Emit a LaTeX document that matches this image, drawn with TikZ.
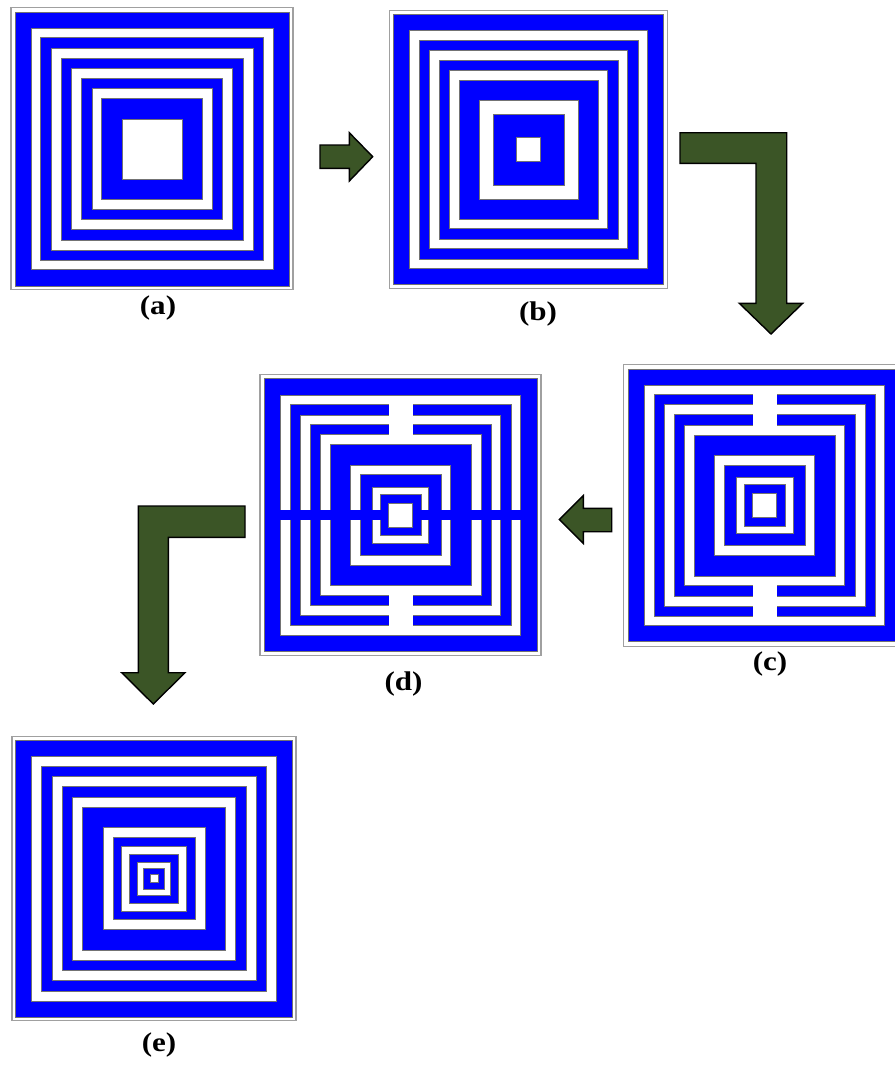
\documentclass[tikz,border=0pt]{standalone}
\usepackage{fontspec}
\setmainfont{Liberation Serif}
\usepackage{graphicx}
\usepackage{xcolor}
\definecolor{ring}{HTML}{0000FF}
\definecolor{frm}{HTML}{A0A0A0}
\definecolor{arrg}{HTML}{3B5526}
\usepackage{tikz}
\usetikzlibrary{calc}
\tikzset{
  sq/.style={draw=black!55,line width=0.5pt},
  frame/.style={draw=frm,line width=1.3pt},
  gap/.style={fill=white},
  band/.style={fill=ring},
  blockarr/.style={fill=arrg,draw=black,line width=1.4pt,line join=miter},
  lab/.style={anchor=base,inner sep=0pt,font=\fontsize{27}{27}\selectfont\bfseries},
}
\newcommand{\panlab}[1]{\scalebox{1.15}[1]{#1}}

\begin{document}
\begin{tikzpicture}[x=1pt,y=-1pt]
\useasboundingbox[fill=white] (0,0) rectangle (894,1065);

% panel centres
\coordinate (pa) at (152,148.8);
\coordinate (pb) at (528.7,149.7);
\coordinate (pc) at (764.7,505.3);
\coordinate (pd) at (400.5,515);
\coordinate (pe) at (154,878.7);

% (a)
\draw[frame] ($(pa)+(-141,-141)$) rectangle ($(pa)+(141,141)$);
\foreach \h/\c in {137/ring,120.8/white,111.3/ring,101/white,91/ring,80.7/white,70.7/ring,60.2/white,50.7/ring,30/white}
  \filldraw[sq,fill=\c] ($(pa)+(-\h,-\h)$) rectangle ($(pa)+(\h,\h)$);

% (b)
\draw[frame] ($(pb)+(-139,-139)$) rectangle ($(pb)+(139,139)$);
\foreach \h/\c in {135/ring,119/white,109.2/ring,99/white,89.5/ring,79/white,69.7/ring,49.5/white,35.8/ring,12/white}
  \filldraw[sq,fill=\c] ($(pb)+(-\h,-\h)$) rectangle ($(pb)+(\h,\h)$);

% (c)
\draw[frame] ($(pc)+(-141,-141)$) rectangle ($(pc)+(141,141)$);
\foreach \h/\c in {136/ring,120/white,110.8/ring,100.7/white,90.7/ring,80/white,70.5/ring,50/white,40.3/ring,28.3/white,20.7/ring,12/white}
  \filldraw[sq,fill=\c] ($(pc)+(-\h,-\h)$) rectangle ($(pc)+(\h,\h)$);
\fill[gap] ($(pc)+(-12,-111.5)$) rectangle ($(pc)+(12,-79.6)$);
\fill[gap] ($(pc)+(-12,79.6)$) rectangle ($(pc)+(12,111.5)$);

% (d)
\draw[frame] ($(pd)+(-140.5,-140.5)$) rectangle ($(pd)+(140.5,140.5)$);
\foreach \h/\c in {136.7/ring,120/white,110.5/ring,100/white,90.5/ring,80.3/white,70.5/ring,50/white,40.3/ring,27.8/white,20.3/ring}
  \filldraw[sq,fill=\c] ($(pd)+(-\h,-\h)$) rectangle ($(pd)+(\h,\h)$);
\fill[gap] ($(pd)+(-12,-111.2)$) rectangle ($(pd)+(12,-79.9)$);
\fill[gap] ($(pd)+(-12,79.9)$) rectangle ($(pd)+(12,111.2)$);
\fill[band] ($(pd)+(-120.5,-4.7)$) rectangle ($(pd)+(120.5,4.7)$);
\filldraw[sq,fill=white] ($(pd)+(-12,-12)$) rectangle ($(pd)+(12,12)$);

% (e)
\draw[frame] ($(pe)+(-142,-142)$) rectangle ($(pe)+(142,142)$);
\foreach \h/\c in {138.7/ring,122.3/white,112.5/ring,102/white,92/ring,81.7/white,71.5/ring,51/white,41/ring,32.7/white,24.5/ring,16.5/white,10.7/ring,4/white}
  \filldraw[sq,fill=\c] ($(pe)+(-\h,-\h)$) rectangle ($(pe)+(\h,\h)$);

% labels
\node[lab] (la) at (158,314) {\panlab{(a)}};
\node[lab] (lb) at (538,320) {\panlab{(b)}};
\node[lab] (lc) at (770,670) {\panlab{(c)}};
\node[lab] (ld) at (403.5,690) {\panlab{(d)}};
\node[lab] (le) at (159,1051) {\panlab{(e)}};

% block arrows
\draw[blockarr] (320,145) -- (349.3,145) -- (349.3,132.7) -- (372.7,156.7)
  -- (349.3,181) -- (349.3,168.3) -- (320,168.3) -- cycle;
\draw[blockarr] (680,132.7) -- (786.7,132.7) -- (786.7,303.3) -- (802.7,303.3)
  -- (771,334) -- (739.3,303.3) -- (756,303.3) -- (756,163.3) -- (680,163.3) -- cycle;
\draw[blockarr] (611.7,508.3) -- (583.3,508.3) -- (583.3,495.5) -- (559.3,519.5)
  -- (583.3,543.5) -- (583.3,531.7) -- (611.7,531.7) -- cycle;
\draw[blockarr] (245,506) -- (138.3,506) -- (138.3,672.7) -- (121.7,672.7)
  -- (153.3,704) -- (185,672.7) -- (168.3,672.7) -- (168.3,537.3) -- (245,537.3) -- cycle;
\end{tikzpicture}
\end{document}
